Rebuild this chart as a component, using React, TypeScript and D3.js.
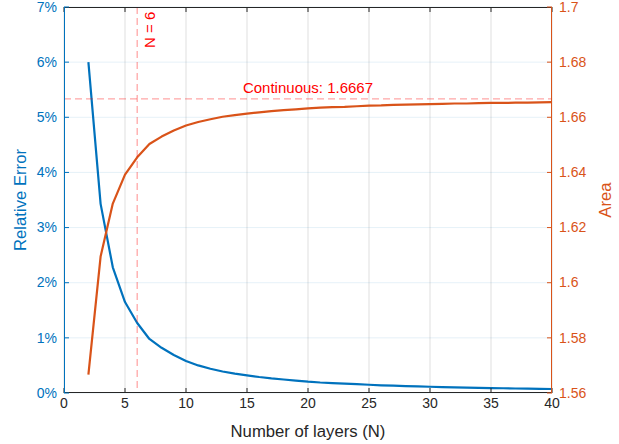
import React from 'react'
import * as d3 from 'd3'

// layers N and the values
const layers = [2, 3, 4, 5, 6, 7, 8, 9, 10, 11, 12, 13, 14, 15, 16, 17, 18, 19, 20, 21, 22, 23, 24, 25, 26, 27, 28, 29, 30, 31, 32, 33, 34, 35, 36, 37, 38, 39, 40]
const relError = [6.0, 3.43, 2.28, 1.65, 1.27, 0.98, 0.82, 0.69, 0.58, 0.5, 0.44, 0.39, 0.35, 0.32, 0.29, 0.265, 0.245, 0.225, 0.205, 0.19, 0.18, 0.17, 0.16, 0.15, 0.14, 0.133, 0.126, 0.12, 0.113, 0.108, 0.103, 0.098, 0.094, 0.09, 0.086, 0.082, 0.079, 0.076, 0.073]
const area = [1.5667, 1.6095, 1.6287, 1.6392, 1.6455, 1.6503, 1.653, 1.6552, 1.657, 1.6583, 1.6593, 1.6602, 1.6608, 1.6613, 1.6618, 1.6622, 1.6626, 1.6629, 1.6632, 1.6635, 1.6637, 1.6638, 1.664, 1.6642, 1.6643, 1.6645, 1.6646, 1.6647, 1.6648, 1.6649, 1.665, 1.665, 1.6651, 1.6652, 1.6652, 1.6653, 1.6653, 1.6654, 1.6655]
const continuousArea = 1.6667
const chosenN = 6
const errorTicks = [0, 1, 2, 3, 4, 5, 6, 7]
const areaTicks = [1.56, 1.58, 1.6, 1.62, 1.64, 1.66, 1.68, 1.7]
const nTicks = [0, 5, 10, 15, 20, 25, 30, 35, 40]

const BLUE = '#0072BD'
const ORANGE = '#D95319'
const DARK = '#262626'
const FONT = 'Liberation Sans, Arial, Helvetica, sans-serif'

export default function App() {
  const width = 619
  const height = 444
  const margin = { top: 7, right: 67, bottom: 51, left: 64 }
  const w = width - margin.left - margin.right
  const h = height - margin.top - margin.bottom
  const tick = 5

  const x = d3.scaleLinear().domain([0, 40]).range([0, w])
  const yL = d3.scaleLinear().domain([0, 7]).range([h, 0])
  const yR = d3.scaleLinear().domain([1.56, 1.7]).range([h, 0])

  const errLine = d3.line<number>().x((d, i) => x(layers[i])).y(d => yL(d))
  const areaLine = d3.line<number>().x((d, i) => x(layers[i])).y(d => yR(d))

  return (
    <svg width={width} height={height} style={{ position: 'absolute', left: 0, top: 0, background: '#fff' }} fontFamily={FONT}>
      <g transform={`translate(${margin.left},${margin.top})`}>
        {/* grid */}
        {nTicks.map(t => (
          <line key={'gx' + t} x1={x(t)} x2={x(t)} y1={0} y2={h} stroke={DARK} strokeOpacity={0.15} />
        ))}
        {errorTicks.map(t => (
          <line key={'gy' + t} x1={0} x2={w} y1={yL(t)} y2={yL(t)} stroke={BLUE} strokeOpacity={0.1} />
        ))}

        {/* curves */}
        <path d={errLine(relError) || ''} fill="none" stroke={BLUE} strokeWidth={2.2} strokeLinejoin="round" />
        <path d={areaLine(area) || ''} fill="none" stroke={ORANGE} strokeWidth={2.2} strokeLinejoin="round" />

        {/* reference lines */}
        <line x1={x(chosenN)} x2={x(chosenN)} y1={0} y2={h} stroke="#ff0000" strokeOpacity={0.35} strokeWidth={1.3} strokeDasharray="7,4" />
        <line x1={0} x2={w} y1={yR(continuousArea)} y2={yR(continuousArea)} stroke="#ff0000" strokeOpacity={0.35} strokeWidth={1.3} strokeDasharray="7,4" />
        <text transform={`translate(${x(chosenN) + 18},${41}) rotate(-90)`} fontSize={15} fill="#ff0000">N = {chosenN}</text>
        <text x={w / 2} y={yR(continuousArea) - 6} textAnchor="middle" fontSize={15} fill="#ff0000">Continuous: {continuousArea.toFixed(4)}</text>

        {/* box: top & bottom axes */}
        <line x1={0} x2={w} y1={0.5} y2={0.5} stroke={DARK} />
        <line x1={0} x2={w} y1={h - 0.5} y2={h - 0.5} stroke={DARK} />
        {nTicks.map(t => (
          <g key={'xt' + t}>
            <line x1={x(t)} x2={x(t)} y1={h} y2={h - tick} stroke={DARK} />
            <line x1={x(t)} x2={x(t)} y1={0} y2={tick} stroke={DARK} />
            <text x={x(t)} y={h + 15} textAnchor="middle" fontSize={14} fill={DARK}>{t}</text>
          </g>
        ))}

        {/* left axis */}
        <line x1={0.5} x2={0.5} y1={0} y2={h} stroke={BLUE} />
        {errorTicks.map(t => (
          <g key={'yl' + t}>
            <line x1={0} x2={tick} y1={yL(t)} y2={yL(t)} stroke={BLUE} />
            <text x={-7} y={yL(t)} dy="0.34em" textAnchor="end" fontSize={14} fill={BLUE}>{t}%</text>
          </g>
        ))}

        {/* right axis */}
        <line x1={w - 0.5} x2={w - 0.5} y1={0} y2={h} stroke={ORANGE} />
        {areaTicks.map(t => (
          <g key={'yr' + t}>
            <line x1={w} x2={w - tick} y1={yR(t)} y2={yR(t)} stroke={ORANGE} />
            <text x={w + 7} y={yR(t)} dy="0.34em" textAnchor="start" fontSize={14} fill={ORANGE}>{d3.format('~g')(t)}</text>
          </g>
        ))}

        {/* axis titles */}
        <text x={w / 2} y={h + 44} textAnchor="middle" fontSize={16.7} fill={DARK}>Number of layers (N)</text>
        <text transform={`translate(${-38},${h / 2}) rotate(-90)`} textAnchor="middle" fontSize={16.7} fill={BLUE}>Relative Error</text>
        <text transform={`translate(${w + 59},${h / 2}) rotate(-90)`} textAnchor="middle" fontSize={16.7} fill={ORANGE}>Area</text>
      </g>
    </svg>
  )
}
